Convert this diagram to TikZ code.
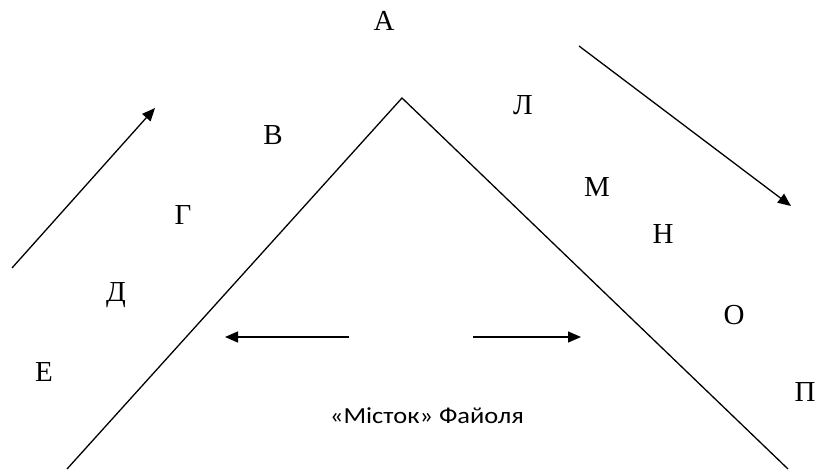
\documentclass[tikz,border=0pt]{standalone}
\usepackage{fontspec}
\setmainfont{Liberation Serif}
\newfontfamily\capfont[FakeStretch=1.15]{Carlito}
\usetikzlibrary{arrows.meta}
\begin{document}
\begin{tikzpicture}[x=1pt,y=-1pt,
  lbl/.style={font=\fontsize{29}{32}\selectfont, inner sep=0pt},
  captext/.style={font=\capfont\fontsize{23}{26}\selectfont, inner sep=0pt},
  ln/.style={line width=1.3pt, black},
  arr/.style={ln, -{Triangle[length=13pt,width=11pt]}}]
\useasboundingbox (0,0) rectangle (819,470);
% letters
\node[lbl] (A) at (384,21) {А};
\node[lbl] (V) at (273,135) {В};
\node[lbl] (G) at (183,215) {Г};
\node[lbl] (D) at (116,295) {Д};
\node[lbl] (E) at (44,372) {Е};
\node[lbl] (L) at (523,105) {Л};
\node[lbl] (M) at (597,187) {М};
\node[lbl] (N) at (663,234) {Н};
\node[lbl] (O) at (734,315) {О};
\node[lbl] (P) at (805,392) {П};
\node[captext] (caption) at (427,416) {«Місток» Файоля};
% roof lines
\coordinate (apex) at (402,98);
\coordinate (lb) at (67,469);
\coordinate (rb) at (788,469);
\draw[ln] (lb) -- (apex) -- (rb);
% diagonal arrows
\coordinate (la1) at (12,268);
\coordinate (la2) at (155,108);
\draw[arr] (la1) -- (la2);
\coordinate (ra1) at (579,46);
\coordinate (ra2) at (791,206);
\draw[arr] (ra1) -- (ra2);
% horizontal arrows
\coordinate (h1a) at (349,337);
\coordinate (h1b) at (225,337);
\draw[arr] (h1a) -- (h1b);
\coordinate (h2a) at (473,337);
\coordinate (h2b) at (581,337);
\draw[arr] (h2a) -- (h2b);
\end{tikzpicture}
\end{document}
